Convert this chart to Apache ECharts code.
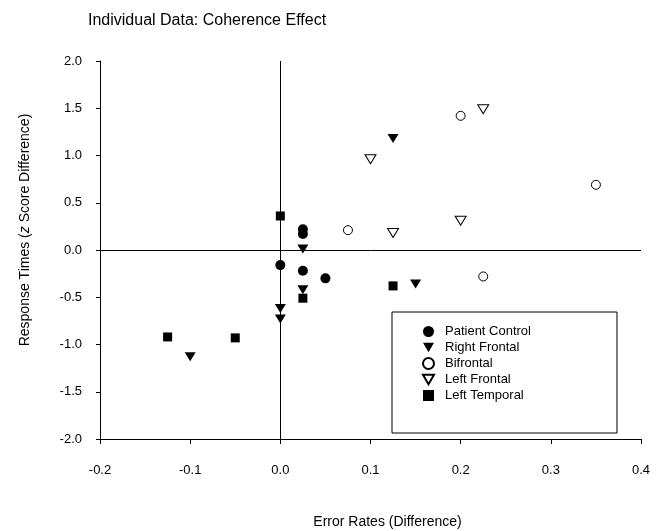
<!DOCTYPE html>
<html>
<head>
<meta charset="utf-8">
<script src="https://cdn.jsdelivr.net/npm/echarts@6/dist/echarts.min.js"></script>
<style>
  html, body { margin: 0; padding: 0; background: #fff; }
  #chart { width: 667px; height: 531px; }
</style>
</head>
<body>
<div id="chart"></div>
<script>
// data: [error rate diff, z score diff]
var patientControl = [[0.025, 0.22], [0.025, 0.17], [0, -0.16], [0.025, -0.22], [0.05, -0.30]];
var rightFrontal = [[0.025, 0.01], [0.125, 1.18], [0.15, -0.36], [0.025, -0.42], [0, -0.62], [0, -0.73], [-0.1, -1.13]];
var bifrontal = [[0.075, 0.21], [0.2, 1.42], [0.35, 0.69], [0.225, -0.28]];
var leftFrontal = [[0.1, 0.96], [0.225, 1.49], [0.2, 0.31], [0.125, 0.18]];
var leftTemporal = [[0, 0.36], [0.025, -0.51], [0.125, -0.38], [-0.125, -0.92], [-0.05, -0.93]];

var seriesNames = ['Patient Control', 'Right Frontal', 'Bifrontal', 'Left Frontal', 'Left Temporal'];

var downTri = 'path://M0,0L2,0L1,1.732Z';
var font = 'Liberation Sans, Arial, sans-serif';

var myChart = echarts.init(document.getElementById('chart'));

var filled = { color: '#000', opacity: 1 };
var hollow = { color: '#fff', borderColor: '#000', borderWidth: 1, opacity: 1 };

var option = {
    animation: false,
    backgroundColor: '#fff',
    textStyle: { fontFamily: font, color: '#000' },
    title: {
        text: 'Individual Data: Coherence Effect',
        left: 83,
        top: 8,
        textStyle: { fontFamily: font, fontSize: 16, fontWeight: 'normal', color: '#000' }
    },
    grid: {
        left: 100,
        right: 26,
        top: 61,
        bottom: 92,
        containLabel: false,
        outerBoundsMode: 'none'
    },
    legend: {
        orient: 'vertical',
        left: 392,
        top: 312,
        padding: [13, 86, 31, 30],
        itemGap: 3,
        itemWidth: 11,
        itemHeight: 11,
        borderColor: '#000',
        borderWidth: 1,
        backgroundColor: '#fff',
        textStyle: { fontFamily: font, fontSize: 13, color: '#000', padding: [0, 0, 0, 6] },
        data: [
            { name: seriesNames[0], icon: 'circle' },
            { name: seriesNames[1], icon: downTri },
            { name: seriesNames[2], icon: 'circle' },
            { name: seriesNames[3], icon: downTri },
            { name: seriesNames[4], icon: 'rect' }
        ]
    },
    xAxis: {
        type: 'value',
        min: -0.2,
        max: 0.4,
        interval: 0.1,
        name: 'Error Rates (Difference)',
        nameLocation: 'middle',
        nameGap: 76,
        nameTextStyle: { fontFamily: font, fontSize: 14, color: '#000', padding: [0, 0, 0, 34] },
        axisLine: { onZero: false, lineStyle: { color: '#000', width: 1 } },
        axisTick: { length: 5, lineStyle: { color: '#000' } },
        axisLabel: {
            color: '#000', fontSize: 13, margin: 25,
            formatter: function (v) { return v.toFixed(1); }
        },
        splitLine: { show: false }
    },
    yAxis: {
        type: 'value',
        min: -2,
        max: 2,
        interval: 0.5,
        name: 'Response Times ({i|z} Score Difference)',
        nameLocation: 'middle',
        nameGap: 68,
        nameTextStyle: {
            fontFamily: font, fontSize: 14, color: '#000', padding: [0, 0, 0, 40],
            rich: { i: { fontFamily: font, fontSize: 14, fontStyle: 'italic', color: '#000' } }
        },
        axisLine: { onZero: false, lineStyle: { color: '#000', width: 1 } },
        axisTick: { length: 4, lineStyle: { color: '#000' } },
        axisLabel: {
            color: '#000', fontSize: 13, margin: 18,
            formatter: function (v) { return v.toFixed(1); }
        },
        splitLine: { show: false }
    },
    series: [
        {
            name: seriesNames[0], type: 'scatter', data: patientControl,
            symbol: 'circle', symbolSize: 10, itemStyle: filled,
            markLine: {
                silent: true,
                symbol: 'none',
                label: { show: false },
                lineStyle: { color: '#000', type: 'solid', width: 1, opacity: 1 },
                data: [{ xAxis: 0 }, { yAxis: 0 }]
            }
        },
        {
            name: seriesNames[1], type: 'scatter', data: rightFrontal,
            symbol: downTri, symbolSize: [11, 9], itemStyle: filled
        },
        {
            name: seriesNames[2], type: 'scatter', data: bifrontal,
            symbol: 'circle', symbolSize: 9, itemStyle: hollow
        },
        {
            name: seriesNames[3], type: 'scatter', data: leftFrontal,
            symbol: downTri, symbolSize: [11, 9], itemStyle: hollow
        },
        {
            name: seriesNames[4], type: 'scatter', data: leftTemporal,
            symbol: 'rect', symbolSize: 9, itemStyle: filled
        }
    ]
};
myChart.setOption(option);
</script>
</body>
</html>
